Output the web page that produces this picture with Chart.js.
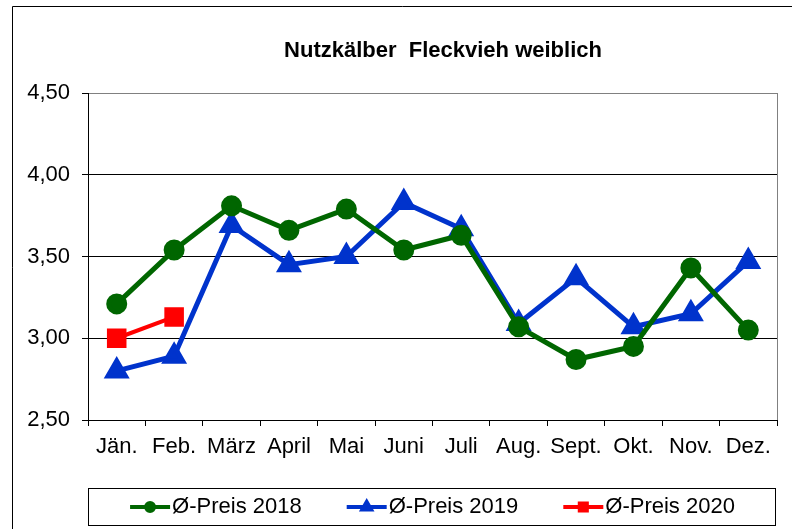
<!DOCTYPE html>
<html>
<head>
<meta charset="utf-8">
<script src="https://cdn.jsdelivr.net/npm/chart.js@4.4.1/dist/chart.umd.min.js"></script>
<style>
  body { margin: 0; background: #fff; }
  canvas { display: block; }
</style>
</head>
<body>
<canvas id="chart" width="792" height="529"></canvas>
<script>
// Monate
const monate = ['Jän.', 'Feb.', 'März', 'April', 'Mai', 'Juni', 'Juli', 'Aug.', 'Sept.', 'Okt.', 'Nov.', 'Dez.'];
// Durchschnittspreise je Jahr
const preis2018 = [3.21, 3.54, 3.81, 3.66, 3.79, 3.54, 3.63, 3.07, 2.87, 2.95, 3.43, 3.05];
const preis2019 = [2.80, 2.89, 3.69, 3.45, 3.50, 3.83, 3.67, 3.09, 3.37, 3.07, 3.15, 3.47];
const preis2020 = [3.00, 3.13];
const titel = 'Nutzkälber  Fleckvieh weiblich';

const schrift = 'Arial, "Liberation Sans", sans-serif';

// Rahmen, Titel, rechter Rand und Legende
const rahmenPlugin = {
  id: 'rahmen',
  afterDraw(chart) {
    const ctx = chart.ctx;
    const a = chart.chartArea;
    ctx.save();
    ctx.strokeStyle = '#000';
    ctx.lineWidth = 1;
    ctx.beginPath();
    ctx.moveTo(12.5, chart.height);
    ctx.lineTo(12.5, 6.5);
    ctx.lineTo(chart.width, 6.5);
    ctx.stroke();

    ctx.strokeStyle = '#808080';
    ctx.beginPath();
    ctx.moveTo(a.right + 0.5, a.top);
    ctx.lineTo(a.right + 0.5, a.bottom);
    ctx.stroke();

    ctx.fillStyle = '#000';
    ctx.font = 'bold 22px ' + schrift;
    ctx.textAlign = 'center';
    ctx.textBaseline = 'alphabetic';
    ctx.fillText(titel, 443, 57);

    // Legende
    const boxTop = 488, boxBottom = 525, mitte = 507;
    ctx.strokeStyle = '#000';
    ctx.strokeRect(a.left + 0.5, boxTop + 0.5, a.right - a.left - 2, boxBottom - boxTop);
    ctx.font = '22px ' + schrift;
    ctx.textAlign = 'left';
    const sets = chart.data.datasets;
    const breiten = sets.map(d => ctx.measureText(d.label).width);
    const abstand = 45;
    let gesamt = breiten.reduce((s, w) => s + 42 + w, 0) + abstand * (sets.length - 1);
    let x = (a.left + a.right) / 2 - gesamt / 2;
    sets.forEach((d, i) => {
      ctx.strokeStyle = d.borderColor;
      ctx.fillStyle = d.borderColor;
      ctx.lineWidth = 4;
      ctx.beginPath();
      ctx.moveTo(x, mitte);
      ctx.lineTo(x + 40, mitte);
      ctx.stroke();
      Chart.helpers.drawPoint(ctx, {
        pointStyle: d.pointStyle, radius: d.legendRadius, rotation: 0, borderWidth: 1
      }, x + 20, mitte);
      ctx.fillStyle = '#000';
      ctx.fillText(d.label, x + 42, 513);
      x += 42 + breiten[i] + abstand;
    });
    ctx.restore();
  }
};

const ctx = document.getElementById('chart').getContext('2d');
new Chart(ctx, {
  type: 'line',
  data: {
    labels: monate,
    datasets: [
      {
        label: 'Ø-Preis 2018',
        data: preis2018,
        borderColor: '#006600',
        backgroundColor: '#006600',
        borderWidth: 5,
        pointStyle: 'circle',
        pointRadius: 8,
        legendRadius: 4,
      },
      {
        label: 'Ø-Preis 2019',
        data: preis2019,
        borderColor: '#0033CC',
        backgroundColor: '#0033CC',
        borderWidth: 5,
        pointStyle: 'triangle',
        pointRadius: 10,
        legendRadius: 5,
      },
      {
        label: 'Ø-Preis 2020',
        data: preis2020,
        borderColor: '#FF0000',
        backgroundColor: '#FF0000',
        borderWidth: 4,
        pointStyle: 'rect',
        pointRadius: 11,
        legendRadius: 5,
      },
    ],
  },
  options: {
    responsive: false,
    animation: false,
    layout: { padding: { top: 93, right: 13, bottom: 59, left: 0 } },
    elements: {
      line: { tension: 0 },
      point: { borderWidth: 1, hoverRadius: 8 },
    },
    plugins: {
      legend: { display: false },
      title: { display: false },
      tooltip: { enabled: false },
    },
    scales: {
      x: {
        type: 'category',
        offset: true,
        afterFit: s => { s.height = 50; },
        grid: { offset: true, drawOnChartArea: false, tickLength: 6, color: '#000' },
        border: { color: '#000' },
        ticks: {
          color: '#000', font: { family: schrift, size: 22 },
          padding: 8, maxRotation: 0, autoSkip: false,
        },
      },
      y: {
        min: 2.5,
        max: 4.5,
        afterFit: s => { s.width = 88; },
        grid: {
          color: c => (c.tick && c.tick.value === 4.5 ? '#808080' : '#000'),
          tickColor: '#000',
          tickLength: 6,
        },
        border: { color: '#000' },
        ticks: {
          stepSize: 0.5,
          color: '#000', font: { family: schrift, size: 22 },
          padding: 12,
          callback: v => v.toFixed(2).replace('.', ','),
        },
      },
    },
  },
  plugins: [rahmenPlugin],
});
</script>
</body>
</html>
